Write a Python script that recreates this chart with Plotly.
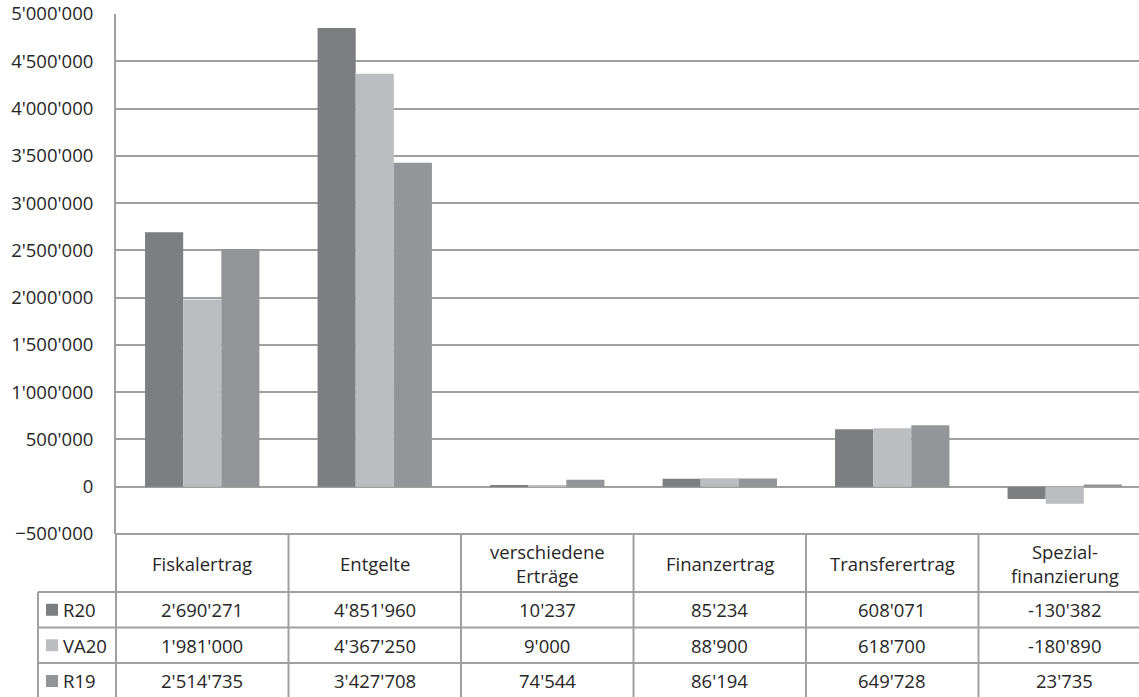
import plotly.graph_objects as go

# ---- data -------------------------------------------------------------
categories = ["Fiskalertrag", "Entgelte", "verschiedene Erträge",
              "Finanzertrag", "Transferertrag", "Spezialfinanzierung"]
header_labels = ["Fiskalertrag", "Entgelte", "verschiedene<br>Erträge",
                 "Finanzertrag", "Transferertrag", "Spezial-<br>finanzierung"]
series_names = ["R20", "VA20", "R19"]
r20 = [2690271, 4851960, 10237, 85234, 608071, -130382]
va20 = [1981000, 4367250, 9000, 88900, 618700, -180890]
r19 = [2514735, 3427708, 74544, 86194, 649728, 23735]
series_values = [r20, va20, r19]
series_colors = ["#7d7e82", "#bcbdc1", "#949599"]

y_min, y_max, y_step = -500000, 5000000, 500000

# ---- geometry (pixels) ------------------------------------------------
FIG_W, FIG_H = 1139, 697
M_L, M_R, M_T, M_B = 116, 0, 14, 163
PLOT_W = FIG_W - M_L - M_R
PLOT_H = FIG_H - M_T - M_B
CAT_W = 172.5
x0 = -0.5
x1 = x0 + PLOT_W / CAT_W

LINE = "#a0a0a0"
TEXT = "#262626"
FONT = "Open Sans"
FS = 18.5


def px_x(px):
    return (px - M_L) / PLOT_W


def px_y(py):
    return (FIG_H - M_B - py) / PLOT_H


def data_x(v):
    return (v - x0) / (x1 - x0)


def fmt(v):
    s = f"{abs(v):,}".replace(",", "'")
    return "-" + s if v < 0 else s


fig = go.Figure()
for name, vals, col in zip(series_names, series_values, series_colors):
    fig.add_bar(x=list(range(len(categories))), y=vals, name=name,
                marker=dict(color=col, line=dict(width=0)),
                hovertext=categories)

shapes = []
annotations = []

# table rows
table_top = FIG_H - M_B          # 534
row_edges = [table_top, 592, 627.5, 663, 699]
legend_left = 38

# horizontal lines
shapes.append(dict(type="line", xref="paper", yref="paper",
                   x0=0, x1=1, y0=px_y(row_edges[0]), y1=px_y(row_edges[0]),
                   line=dict(color=LINE, width=2)))
for ry in row_edges[1:]:
    shapes.append(dict(type="line", xref="paper", yref="paper",
                       x0=px_x(legend_left), x1=1, y0=px_y(ry), y1=px_y(ry),
                       line=dict(color=LINE, width=2)))

# vertical lines
shapes.append(dict(type="line", xref="paper", yref="paper",
                   x0=0, x1=0, y0=px_y(table_top), y1=px_y(FIG_H + 2),
                   line=dict(color=LINE, width=2)))
shapes.append(dict(type="line", xref="paper", yref="paper",
                   x0=px_x(legend_left), x1=px_x(legend_left),
                   y0=px_y(row_edges[1]), y1=px_y(FIG_H + 2),
                   line=dict(color=LINE, width=2)))
for k in range(1, len(categories) + 1):
    xp = data_x(k - 0.5)
    if xp <= 1:
        shapes.append(dict(type="line", xref="paper", yref="paper",
                           x0=xp, x1=xp, y0=px_y(table_top), y1=px_y(FIG_H + 2),
                           line=dict(color=LINE, width=2)))

# header cells
hdr_mid = (row_edges[0] + row_edges[1]) / 2
for k, lab in enumerate(header_labels):
    annotations.append(dict(xref="paper", yref="paper", x=data_x(k), y=px_y(hdr_mid),
                            text=lab, showarrow=False, xanchor="center", yanchor="middle",
                            font=dict(family=FONT, size=FS, color=TEXT)))

# data rows with legend keys
for r, (name, vals, col) in enumerate(zip(series_names, series_values, series_colors)):
    mid = (row_edges[r + 1] + row_edges[r + 2]) / 2
    shapes.append(dict(type="rect", xref="paper", yref="paper",
                       x0=px_x(46), x1=px_x(58), y0=px_y(mid + 6), y1=px_y(mid - 6),
                       fillcolor=col, line=dict(width=0)))
    annotations.append(dict(xref="paper", yref="paper", x=px_x(61), y=px_y(mid),
                            text=name, showarrow=False, xanchor="left", yanchor="middle",
                            font=dict(family=FONT, size=FS, color=TEXT)))
    for k, v in enumerate(vals):
        annotations.append(dict(xref="paper", yref="paper", x=data_x(k), y=px_y(mid),
                                text=fmt(v), showarrow=False, xanchor="center",
                                yanchor="middle",
                                font=dict(family=FONT, size=FS, color=TEXT)))

fig.update_layout(
    width=FIG_W, height=FIG_H, autosize=False,
    margin=dict(l=M_L, r=M_R, t=M_T, b=M_B, pad=0),
    paper_bgcolor="white", plot_bgcolor="white",
    barmode="group", bargap=0.337, bargroupgap=0,
    showlegend=False,
    separators=".'",
    shapes=shapes, annotations=annotations,
    xaxis=dict(type="linear", range=[x0, x1], showticklabels=False,
               showgrid=False, zeroline=False, showline=False, ticks=""),
    yaxis=dict(range=[y_min, y_max], dtick=y_step, tick0=0, tickformat=",d",
               showgrid=True, gridcolor=LINE, gridwidth=2,
               zeroline=False, showline=True, linecolor=LINE, linewidth=2,
               ticks="", ticklabelstandoff=17,
               tickfont=dict(family=FONT, size=FS, color=TEXT)),
)

fig.write_html("out.html")
